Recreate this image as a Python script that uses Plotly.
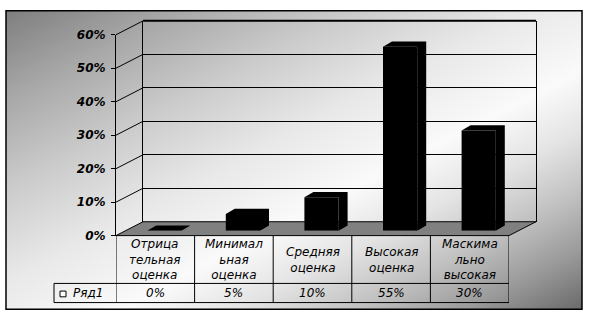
import base64
import plotly.graph_objects as go

# ---------------- data ----------------
categories = ["Отрицательная оценка", "Минимальная оценка", "Средняя оценка",
              "Высокая оценка", "Маскимально высокая"]
category_lines = [["Отрица", "тельная", "оценка"],
                  ["Минимал", "ьная", "оценка"],
                  ["Средняя", "оценка"],
                  ["Высокая", "оценка"],
                  ["Маскима", "льно", "высокая"]]
values = [0.00, 0.05, 0.10, 0.55, 0.30]
series_name = "Ряд1"
y_ticks = [0.0, 0.1, 0.2, 0.3, 0.4, 0.5, 0.6]
y_tick_labels = ["0%", "10%", "20%", "30%", "40%", "50%", "60%"]

# ---------------- geometry (pixels) ----------------
W, H = 589, 322
def px(x):
    return x / W
def py(y):
    return 1 - y / H

N = len(categories)
FX0, FX1 = 116, 509          # front plane x extent
FY0, FY1 = 239, 29           # front plane: value 0 / value 0.6
YMAX = 0.6
DX, DY = 27, 14.5            # depth of the 3D box
BSX, BSY = 9, 5              # bar front-face plane shift
CDX, CDY = 9, 5.5            # bar depth
BAR_W = 0.435
CW = (FX1 - FX0) / N
SCALE = (FY0 - FY1) / YMAX   # px per unit

def fx(i):
    return FX0 + (i + 0.5) * CW
def fy(v):
    return FY0 - v * SCALE

fig = go.Figure()

# invisible traces to realize front and back axes
fig.add_trace(go.Scatter(x=[None], y=[None], xaxis="x", yaxis="y", hoverinfo="skip", showlegend=False))
fig.add_trace(go.Scatter(x=[None], y=[None], xaxis="x3", yaxis="y3", hoverinfo="skip", showlegend=False))

# bars (front faces)
xs = list(range(N))
fig.add_trace(go.Bar(x=xs, y=values, width=BAR_W, xaxis="x2", yaxis="y2",
                     marker=dict(color="black", line=dict(width=0)),
                     name=series_name, showlegend=False, hoverinfo="skip"))

# bar tops and sides (3D caps)
dxu = CDX / CW
dyu = CDY / SCALE
for i, v in enumerate(values):
    l, r = i - BAR_W / 2, i + BAR_W / 2
    fig.add_trace(go.Scatter(
        x=[l, l + dxu, r + dxu, r + dxu, r, r, l],
        y=[v, v + dyu, v + dyu, dyu, 0, v, v],
        xaxis="x2", yaxis="y2", mode="lines", fill="toself",
        fillcolor="black", line=dict(width=0, color="black"),
        hoverinfo="skip", showlegend=False))

shapes = []
# floor
fpath = (f"M {px(FX0)},{py(FY0)} L {px(FX1)},{py(FY0)} "
         f"L {px(FX1 + DX)},{py(FY0 - DY)} L {px(FX0 + DX)},{py(FY0 - DY)} Z")
shapes.append(dict(type="path", xref="paper", yref="paper", path=fpath,
                   fillcolor="#808080", line=dict(color="black", width=1), layer="below"))
# side-wall diagonals
for t in y_ticks[1:]:
    shapes.append(dict(type="line", xref="paper", yref="paper",
                       x0=px(FX0), y0=py(fy(t)), x1=px(FX0 + DX), y1=py(fy(t) - DY),
                       line=dict(color="black", width=1), layer="below"))
# back wall top edge (thicker)
shapes.append(dict(type="line", xref="paper", yref="paper",
                   x0=px(FX0 + DX), y0=py(FY1 - DY), x1=px(FX1 + DX), y1=py(FY1 - DY),
                   line=dict(color="black", width=2), layer="below"))

# data table
ROW1_BOT, ROW2_BOT = 289, 309
LEG_X0 = 54
for k in range(N + 1):
    xb = k - 0.5
    shapes.append(dict(type="line", xref="x", yref="paper",
                       x0=xb, x1=xb, y0=py(FY0), y1=py(ROW2_BOT),
                       line=dict(color="black", width=1)))
for yy in (ROW1_BOT, ROW2_BOT):
    shapes.append(dict(type="line", xref="paper", yref="paper",
                       x0=px(LEG_X0), x1=px(FX1), y0=py(yy), y1=py(yy),
                       line=dict(color="black", width=1)))
shapes.append(dict(type="line", xref="paper", yref="paper",
                   x0=px(LEG_X0), x1=px(LEG_X0), y0=py(ROW1_BOT), y1=py(ROW2_BOT),
                   line=dict(color="black", width=1)))
# legend key square
shapes.append(dict(type="rect", xref="paper", yref="paper",
                   x0=px(60), x1=px(66), y0=py(297), y1=py(303),
                   fillcolor="white", line=dict(color="black", width=1)))
# outer border
shapes.append(dict(type="rect", xref="paper", yref="paper",
                   x0=px(6), x1=px(582), y0=py(4), y1=py(316),
                   line=dict(color="black", width=1.5)))

# annotations
tfont = dict(family="DejaVu Sans", size=12, color="black", style="italic")
annotations = []
HEAD_C = (FY0 + ROW1_BOT) / 2
for i, lines in enumerate(category_lines):
    annotations.append(dict(x=i, y=py(HEAD_C), xref="x", yref="paper",
                            text="<br>".join(lines),
                            showarrow=False, xanchor="center", yanchor="middle",
                            align="center", font=tfont))
for i, v in enumerate(values):
    annotations.append(dict(x=i, y=py((ROW1_BOT + ROW2_BOT) / 2), xref="x", yref="paper",
                            text=f"{round(v * 100)}%", showarrow=False,
                            xanchor="center", yanchor="middle", font=tfont))
annotations.append(dict(x=px(71), y=py((ROW1_BOT + ROW2_BOT) / 2), xref="paper", yref="paper",
                        text=series_name, showarrow=False, xanchor="left", yanchor="middle",
                        font=tfont))

# background gradient
BW, BH = 576, 312
svg = (f'<svg xmlns="http://www.w3.org/2000/svg" width="{BW}" height="{BH}" '
       f'viewBox="0 0 {BW} {BH}" preserveAspectRatio="none"><defs>'
       '<linearGradient id="g" x1="0" y1="0" x2="1" y2="1">'
       '<stop offset="0" stop-color="#7e7e7e"/>'
       '<stop offset="0.15" stop-color="#a8a8a8"/>'
       '<stop offset="0.3" stop-color="#cbcbcb"/>'
       '<stop offset="0.45" stop-color="#e8e8e8"/>'
       '<stop offset="0.6" stop-color="#fafafa"/>'
       '<stop offset="0.7" stop-color="#e4e4e4"/>'
       '<stop offset="0.8" stop-color="#c2c2c2"/>'
       '<stop offset="0.9" stop-color="#9a9a9a"/>'
       '<stop offset="1" stop-color="#6a6a6a"/>'
       '</linearGradient></defs>'
       f'<rect width="{BW}" height="{BH}" fill="url(#g)"/></svg>')
src = "data:image/svg+xml;base64," + base64.b64encode(svg.encode()).decode()

fig.update_layout(
    width=W, height=H,
    margin=dict(l=0, r=0, t=0, b=0, pad=0),
    paper_bgcolor="white", plot_bgcolor="rgba(0,0,0,0)",
    showlegend=False,
    images=[dict(source=src, xref="paper", yref="paper", x=px(6), y=py(4),
                 sizex=(582 - 6) / W, sizey=(316 - 4) / H, xanchor="left", yanchor="top",
                 sizing="stretch", layer="below")],
    xaxis=dict(domain=[px(FX0), px(FX1)], range=[-0.5, N - 0.5], visible=False, fixedrange=True),
    yaxis=dict(domain=[py(FY0), py(FY1)], range=[0, YMAX], anchor="x",
               tickvals=y_ticks, ticktext=y_tick_labels, ticks="outside", ticklen=4,
               tickcolor="black", showline=True, linecolor="black", linewidth=1,
               showgrid=False, zeroline=False, ticklabelstandoff=3,
               tickfont=dict(family="DejaVu Sans", size=12, color="black",
                             weight="bold", style="italic"), fixedrange=True),
    xaxis2=dict(domain=[px(FX0 + BSX), px(FX1 + BSX)], range=[-0.5, N - 0.5], anchor="y2",
                visible=False, fixedrange=True),
    yaxis2=dict(domain=[py(FY0 - BSY), py(FY1 - BSY)], range=[0, YMAX], anchor="x2",
                visible=False, fixedrange=True),
    xaxis3=dict(domain=[px(FX0 + DX), px(FX1 + DX)], range=[0, 1], anchor="y3",
                showgrid=False, showline=False, zeroline=False, showticklabels=False,
                ticks="", fixedrange=True),
    yaxis3=dict(domain=[py(FY0 - DY), py(FY1 - DY)], range=[0, YMAX], anchor="x3",
                tickvals=y_ticks[1:], showticklabels=False, ticks="",
                showgrid=True, gridcolor="black", gridwidth=1,
                showline=True, mirror=True, linecolor="black", linewidth=1,
                zeroline=False, fixedrange=True),
    shapes=shapes, annotations=annotations,
)

fig.write_html("out.html")
